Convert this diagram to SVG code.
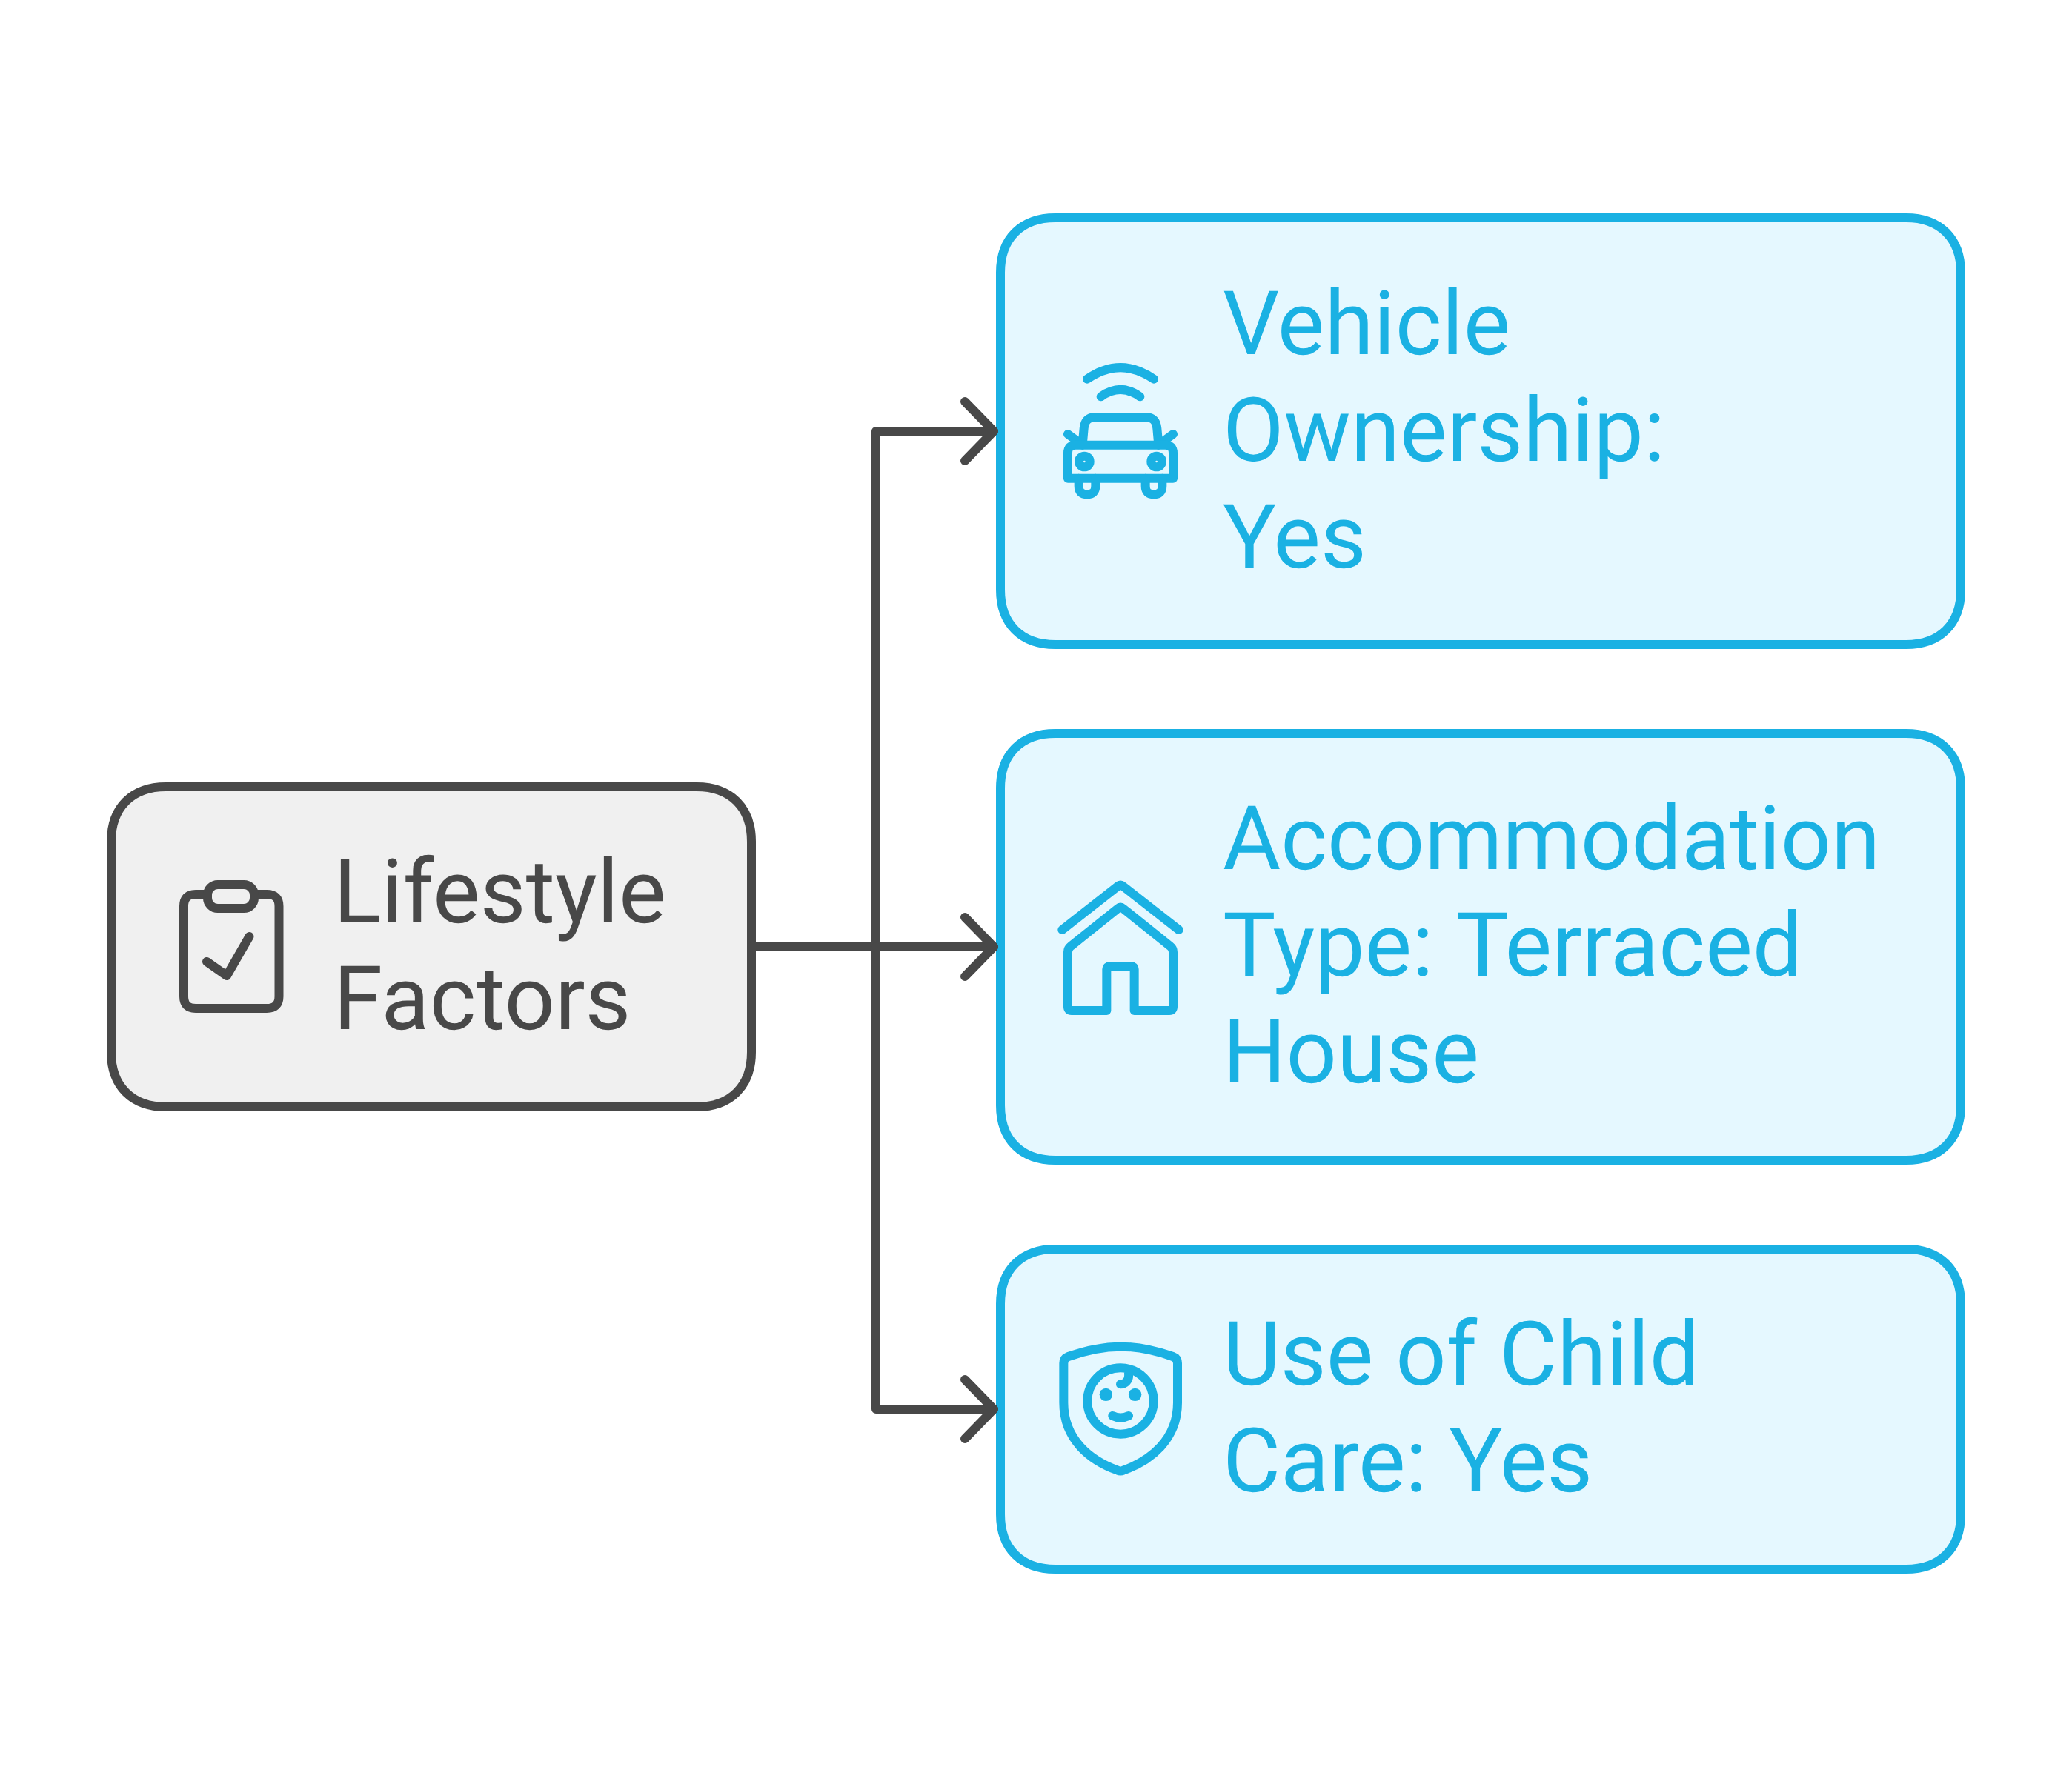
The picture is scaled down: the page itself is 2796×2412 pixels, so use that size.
<svg xmlns="http://www.w3.org/2000/svg" width="2796" height="2412" viewBox="0 0 2796 2412">
<style>
.t{font-family:Roboto,"Liberation Sans",sans-serif;font-size:120px;text-rendering:geometricPrecision}
.gray{fill:#484848}.blue{fill:#1AB1E3}
.ln{fill:none;stroke-width:12;stroke-linecap:round;stroke-linejoin:round}
.bg{stroke:#484848}
.ib{fill:none;stroke:#1AB1E3;stroke-width:36;stroke-linecap:round;stroke-linejoin:round}
.dot{fill:#1AB1E3}
.boxb{fill:#E5F8FF;stroke:#1AB1E3;stroke-width:12}
.boxg{fill:#F0F0F0;stroke:#484848;stroke-width:12}
</style>
<rect width="2796" height="2412" fill="#fff"/>
<g id="node-lifestyle">
<path class="boxg" d="M224 1062H940C986 1062 1014 1090 1014 1136V1420C1014 1466 986 1494 940 1494H224C178 1494 150 1466 150 1420V1136C150 1090 178 1062 224 1062Z"/>
<g class="ln bg">
<path d="M280 1207H264Q248 1207 248 1223V1345Q248 1361 264 1361H360Q376.500 1361 376.500 1345V1223Q376.500 1207 360 1207H343"/>
<rect x="280" y="1194" width="63" height="32" rx="14"/>
<path d="M279 1298L306 1317L336.500 1264"/>
</g>
<text class="t gray"><tspan x="450" y="1245">Lifestyle</tspan><tspan x="450" y="1389">Factors</tspan></text>
</g>
<g id="node-vehicle">
<path class="boxb" d="M1424 294H2572C2618 294 2646 322 2646 368V796C2646 842 2618 870 2572 870H1424C1378 870 1350 842 1350 796V368C1350 322 1378 294 1424 294Z"/>
<g transform="translate(1340 460) scale(.33333)" class="ib">
<path d="M381 155Q516 62 651 155"/>
<path d="M437 226Q516 170 595 226"/>
<path d="M362 422L368 355Q372 310 410 310H622Q660 310 664 355L670 422"/>
<path d="M303 378L340 405M729 378L692 405"/>
<path d="M335 422H697Q729 422 729 454V557H303V454Q303 422 335 422Z"/>
<circle cx="370" cy="489" r="22"/><circle cx="662" cy="489" r="22"/>
<path d="M347 557V588Q347 622 381 622Q415 622 415 588V557"/>
<path d="M617 557V588Q617 622 651 622Q685 622 685 588V557"/>
</g>
<text class="t blue"><tspan x="1650" y="478">Vehicle</tspan><tspan x="1650" y="622">Ownership:</tspan><tspan x="1650" y="766">Yes</tspan></text>
</g>
<g id="node-accommodation">
<path class="boxb" d="M1424 990H2572C2618 990 2646 1018 2646 1064V1492C2646 1538 2618 1566 2572 1566H1424C1378 1566 1350 1538 1350 1492V1064C1350 1018 1378 990 1424 990Z"/>
<g transform="translate(1340 1160) scale(.33333)" class="ib">
<path d="M280 285L505 109Q516 100 527 109L752 285"/>
<path d="M460 612H318Q303 612 303 597V375Q303 360 315 351L505 199Q516 190 527 199L717 351Q729 360 729 375V597Q729 612 714 612H572V445Q572 433 560 433H472Q460 433 460 445Z"/>
</g>
<text class="t blue"><tspan x="1650" y="1173">Accommodation</tspan><tspan x="1650" y="1317">Type: </tspan><tspan dx="3">Terraced</tspan><tspan x="1650" y="1461">House</tspan></text>
</g>
<g id="node-childcare">
<path class="boxb" d="M1424 1686H2572C2618 1686 2646 1714 2646 1760V2044C2646 2090 2618 2118 2572 2118H1424C1378 2118 1350 2090 1350 2044V1760C1350 1714 1378 1686 1424 1686Z"/>
<g transform="translate(1340 1780) scale(.33333)" class="ib">
<path d="M516 113C440 113 370 130 305 153Q286 160 286 180V340C286 490 395 575 505 614Q516 619 527 614C637 575 747 490 747 340V180Q747 160 728 153C662 130 592 113 516 113Z"/>
<circle cx="516" cy="333" r="134"/>
<path d="M484 393Q516 408 549 393"/>
<path d="M549 222C552 250 535 265 516 265"/>
</g>
<g transform="translate(1340 1780) scale(.33333)"><circle class="dot" cx="457" cy="307" r="26"/><circle class="dot" cx="575" cy="307" r="26"/></g>
<text class="t blue"><tspan x="1650" y="1869">Use of Child</tspan><tspan x="1650" y="2013">Care: Yes</tspan></text>
</g>
<g id="connectors" class="ln bg">
<path d="M1014 1278H1341"/>
<path d="M1182 1278V582H1341"/>
<path d="M1182 1278V1902H1341"/>
<path d="M1302 542L1341 582L1302 622"/>
<path d="M1302 1238L1341 1278L1302 1318"/>
<path d="M1302 1862L1341 1902L1302 1942"/>
</g>
</svg>
